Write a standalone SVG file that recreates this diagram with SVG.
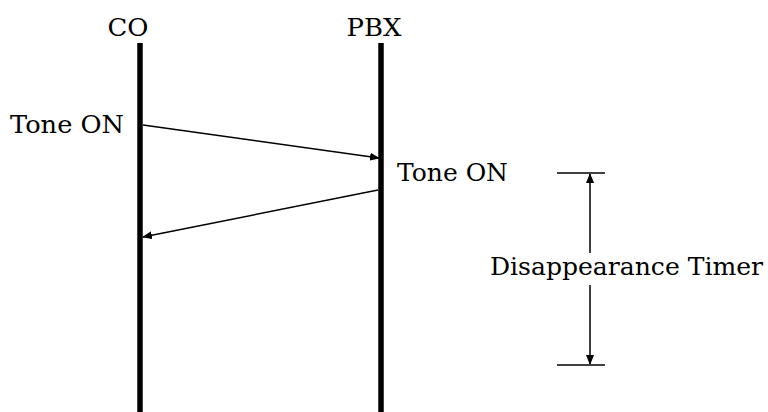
<svg xmlns="http://www.w3.org/2000/svg" width="768" height="412" viewBox="0 0 768 412">
<style>
text{font-family:"DejaVu Serif","Liberation Serif",serif;font-size:24px;fill:#000}
.life{stroke:#000;stroke-width:5.5}
.msg{stroke:#000;stroke-width:1.5;fill:none}
.tick{stroke:#000;stroke-width:1.5}
</style>
<defs>
<marker id="ah" markerWidth="10" markerHeight="8" refX="9" refY="4" orient="auto" markerUnits="userSpaceOnUse">
<path d="M0,0 L10,4 L0,8 Z" fill="#000"/>
</marker>
</defs>
<g id="co">
<line class="life" x1="140" y1="43" x2="140" y2="412"/>
<text x="128" y="36" text-anchor="middle" textLength="41" lengthAdjust="spacingAndGlyphs">CO</text>
</g>
<g id="pbx">
<line class="life" x1="381" y1="43" x2="381" y2="412"/>
<text x="374" y="36" text-anchor="middle" textLength="55" lengthAdjust="spacingAndGlyphs">PBX</text>
</g>
<g id="label-tone-on-co">
<text x="10" y="133" textLength="114" lengthAdjust="spacingAndGlyphs">Tone ON</text>
</g>
<g id="label-tone-on-pbx">
<text x="397" y="181" textLength="111" lengthAdjust="spacingAndGlyphs">Tone ON</text>
</g>
<g id="timer">
<line class="tick" x1="557" y1="173" x2="605" y2="173"/>
<line class="tick" x1="557" y1="365" x2="605" y2="365"/>
<text x="490" y="275" textLength="273" lengthAdjust="spacingAndGlyphs">Disappearance Timer</text>
</g>
<g id="connectors">
<line class="msg" x1="143" y1="125" x2="379" y2="158" marker-end="url(#ah)"/>
<line class="msg" x1="378" y1="190" x2="143" y2="237" marker-end="url(#ah)"/>
<line class="msg" x1="590" y1="253" x2="590" y2="174" marker-end="url(#ah)"/>
<line class="msg" x1="590" y1="285" x2="590" y2="364" marker-end="url(#ah)"/>
</g>
</svg>
